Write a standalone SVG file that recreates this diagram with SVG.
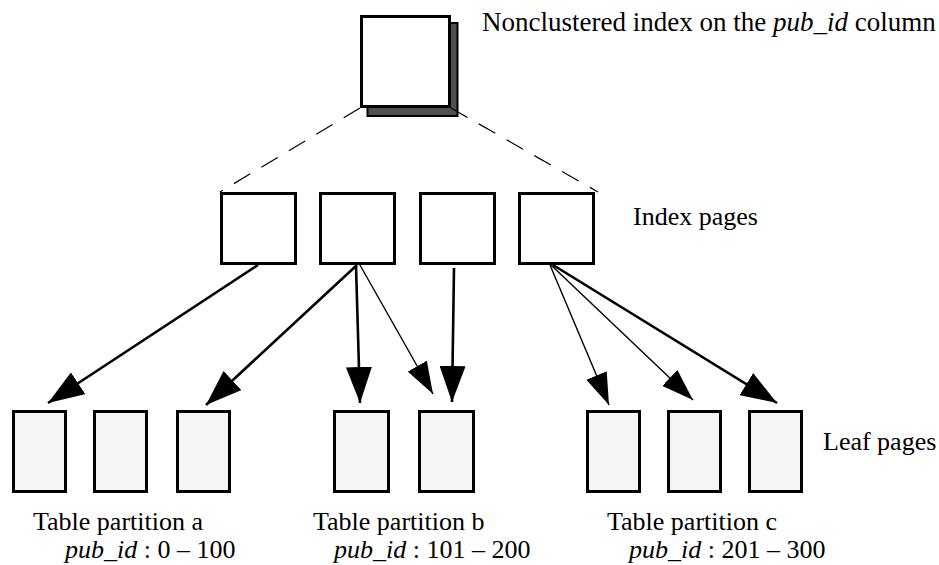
<svg xmlns="http://www.w3.org/2000/svg" width="939" height="565" viewBox="0 0 939 565">
<style>
.box{fill:#fff;stroke:#000;stroke-width:3}
.leaf{fill:#f5f5f5;stroke:#000;stroke-width:3}
.t{font-family:"Liberation Serif","Times New Roman",serif;font-size:26px;fill:#000}
.i{font-style:italic}
.thick{stroke:#000;stroke-width:2.6;fill:none}
.thin{stroke:#000;stroke-width:1.4;fill:none}
.dash{stroke:#000;stroke-width:1.2;stroke-dasharray:19 13;fill:none}
</style>
<defs>
<marker id="ah" markerUnits="userSpaceOnUse" viewBox="0 0 36 26" refX="36" refY="13" markerWidth="36" markerHeight="26" orient="auto">
<path d="M0,0 L36,13 L0,26 z" fill="#000"/>
</marker>
<marker id="ahs" markerUnits="userSpaceOnUse" viewBox="0 0 32 22" refX="32" refY="11" markerWidth="32" markerHeight="22" orient="auto">
<path d="M0,0 L32,11 L0,22 z" fill="#000"/>
</marker>
</defs>
<g id="root">
<rect x="367.5" y="23" width="90" height="93" fill="#505050" stroke="#000" stroke-width="2"/>
<rect class="box" x="361.5" y="16.5" width="88" height="90"/>
</g>
<text class="t" x="482" y="31" style="font-size:27px">Nonclustered index on the <tspan class="i">pub_id</tspan> column</text>
<g id="connectors">
<line class="dash" x1="360" y1="108" x2="220" y2="192"/>
<line class="dash" x1="451" y1="108" x2="598" y2="192"/>
<line class="thick" x1="258" y1="265" x2="48" y2="403" marker-end="url(#ah)"/>
<line class="thick" x1="357" y1="265" x2="206" y2="405" marker-end="url(#ah)"/>
<line class="thick" x1="356" y1="266" x2="360" y2="403" marker-end="url(#ah)"/>
<line class="thin" x1="356" y1="258" x2="433" y2="394" marker-end="url(#ahs)"/>
<line class="thick" x1="454" y1="268" x2="452" y2="402" marker-end="url(#ah)"/>
<line class="thin" x1="550" y1="265" x2="609" y2="405" marker-end="url(#ahs)"/>
<line class="thin" x1="551" y1="265" x2="693" y2="400" marker-end="url(#ahs)"/>
<line class="thick" x1="553" y1="265" x2="777" y2="403" marker-end="url(#ah)"/>
</g>
<g id="index1"><rect class="box" x="221.5" y="193.5" width="74" height="70"/></g>
<g id="index2"><rect class="box" x="320.5" y="193.5" width="74" height="70"/></g>
<g id="index3"><rect class="box" x="420.5" y="193.5" width="74" height="70"/></g>
<g id="index4"><rect class="box" x="519.5" y="193.5" width="74" height="70"/></g>
<text class="t" x="633" y="225">Index pages</text>
<g id="leaf1"><rect class="leaf" x="13.5" y="411.5" width="52" height="80"/></g>
<g id="leaf2"><rect class="leaf" x="94.5" y="411.5" width="52" height="80"/></g>
<g id="leaf3"><rect class="leaf" x="177.5" y="411.5" width="52" height="80"/></g>
<g id="leaf4"><rect class="leaf" x="334.5" y="411.5" width="54" height="80"/></g>
<g id="leaf5"><rect class="leaf" x="419.5" y="411.5" width="54" height="80"/></g>
<g id="leaf6"><rect class="leaf" x="587.5" y="411.5" width="52" height="80"/></g>
<g id="leaf7"><rect class="leaf" x="668.5" y="411.5" width="52" height="80"/></g>
<g id="leaf8"><rect class="leaf" x="749.5" y="411.5" width="52" height="80"/></g>
<text class="t" x="823" y="450">Leaf pages</text>
<text class="t" x="33" y="530">Table partition a</text>
<text class="t" x="65" y="558"><tspan class="i">pub_id</tspan> : 0 – 100</text>
<text class="t" x="313" y="530">Table partition b</text>
<text class="t" x="334" y="558"><tspan class="i">pub_id</tspan> : 101 – 200</text>
<text class="t" x="607" y="530">Table partition c</text>
<text class="t" x="629" y="558"><tspan class="i">pub_id</tspan> : 201 – 300</text>
</svg>
